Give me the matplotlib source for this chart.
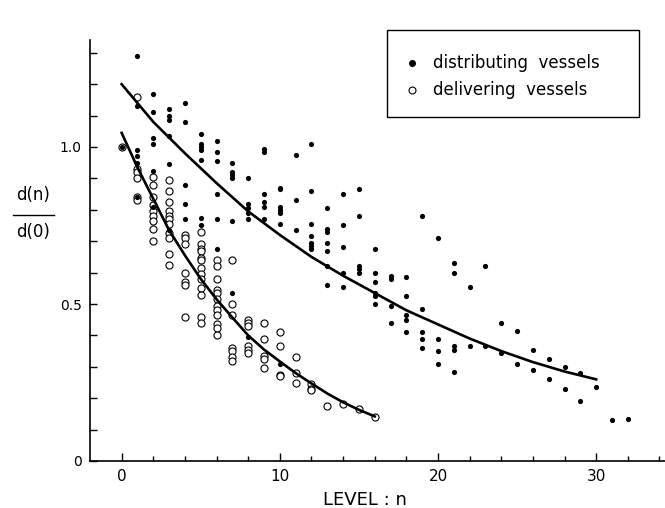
import matplotlib
matplotlib.use("Agg")
import matplotlib.pyplot as plt
import numpy as np
from matplotlib.lines import Line2D
from matplotlib.patches import Rectangle

# d(n)/d(0) readings per branching level n (index = level)
dist_ratio = [
    [1.00],
    [1.29, 1.13, 0.99, 0.97, 0.95, 0.84],
    [1.17, 1.11, 1.03, 1.01, 0.925, 0.81],
    [1.12, 1.10, 1.085, 1.035, 0.945, 0.735],
    [1.14, 1.08, 0.88, 0.82, 0.77],
    [1.04, 1.01, 1.00, 0.99, 0.96, 0.775, 0.75],
    [1.02, 0.985, 0.955, 0.85, 0.77, 0.675],
    [0.95, 0.92, 0.91, 0.90, 0.765, 0.535],
    [0.90, 0.82, 0.805, 0.79, 0.77, 0.395],
    [0.995, 0.985, 0.85, 0.825, 0.81, 0.77],
    [0.87, 0.865, 0.81, 0.80, 0.79, 0.755, 0.31],
    [0.975, 0.83, 0.735],
    [1.01, 0.86, 0.755, 0.715, 0.695, 0.685, 0.675],
    [0.805, 0.74, 0.73, 0.695, 0.67, 0.62, 0.56],
    [0.85, 0.75, 0.68, 0.60, 0.555],
    [0.865, 0.78, 0.62, 0.61, 0.60],
    [0.675, 0.60, 0.57, 0.535, 0.525, 0.50],
    [0.59, 0.58, 0.495, 0.44],
    [0.585, 0.525, 0.465, 0.45, 0.41],
    [0.78, 0.485, 0.41, 0.39, 0.36],
    [0.71, 0.39, 0.35, 0.31],
    [0.63, 0.60, 0.365, 0.355, 0.285],
    [0.555, 0.365],
    [0.62, 0.365],
    [0.44, 0.345],
    [0.415, 0.31],
    [0.355, 0.29],
    [0.325, 0.26],
    [0.30, 0.23],
    [0.28, 0.19],
    [0.235],
    [0.13],
    [0.135],
]

deliv_ratio = [
    [1.00],
    [1.16, 0.93, 0.92, 0.90, 0.84, 0.83],
    [0.905, 0.88, 0.84, 0.815, 0.795, 0.78, 0.765, 0.74, 0.70],
    [0.895, 0.86, 0.825, 0.795, 0.78, 0.77, 0.755, 0.725, 0.71, 0.66, 0.625],
    [0.72, 0.71, 0.69, 0.60, 0.57, 0.56, 0.46],
    [0.73, 0.69, 0.675, 0.67, 0.645, 0.64, 0.615, 0.595, 0.58, 0.55, 0.53,
     0.46, 0.44],
    [0.64, 0.62, 0.58, 0.545, 0.535, 0.515, 0.495, 0.48, 0.465, 0.435, 0.425,
     0.40],
    [0.64, 0.50, 0.465, 0.36, 0.35, 0.33, 0.32],
    [0.45, 0.44, 0.43, 0.365, 0.355, 0.345],
    [0.44, 0.39, 0.335, 0.325, 0.295],
    [0.41, 0.365, 0.275, 0.27],
    [0.33, 0.28, 0.25],
    [0.245, 0.23, 0.225],
    [0.175],
    [0.18],
    [0.165],
    [0.14],
]

# fitted curves
dist_curve_n = [0, 2, 4, 6, 8, 10, 12, 14, 16, 18, 20, 22, 24, 26, 28, 30]
dist_curve_v = [1.20, 1.08, 0.98, 0.885, 0.795, 0.72, 0.65, 0.59, 0.535,
                0.48, 0.435, 0.39, 0.35, 0.315, 0.285, 0.26]
deliv_curve_n = list(range(17))
deliv_curve_v = [1.045, 0.935, 0.835, 0.735, 0.655, 0.58, 0.515, 0.457, 0.40,
                 0.355, 0.317, 0.28, 0.247, 0.215, 0.187, 0.163, 0.142]

legend_labels = ['distributing  vessels', 'delivering  vessels']


def flatten(by_level):
    xs = np.repeat(np.arange(len(by_level)), [len(v) for v in by_level])
    ys = np.concatenate([np.asarray(v, dtype=float) for v in by_level])
    return xs, ys


W, H = 665, 508
fig = plt.figure(figsize=(W / 100, H / 100), dpi=100)
ax = fig.add_axes([90 / W, 1 - 461 / H, 1 - 90 / W, 1.34 * 314 / H])

dx, dy = flatten(dist_ratio)
ox, oy = flatten(deliv_ratio)

ax.scatter(ox, oy, s=26, facecolors='white', edgecolors='black',
           linewidths=0.8, zorder=3)
ax.scatter(dx, dy, s=14, color='black', linewidths=0, zorder=4)

ax.plot(dist_curve_n, dist_curve_v, color='black', lw=1.9, zorder=5)
ax.plot(deliv_curve_n, deliv_curve_v, color='black', lw=1.9, zorder=5)

ax.set_xlim(-2, 34.35)
ax.set_ylim(0, 1.34)

for side in ['top', 'right']:
    ax.spines[side].set_visible(False)
for side in ['left', 'bottom']:
    ax.spines[side].set_linewidth(1.2)

ax.set_xticks([0, 10, 20, 30])
ax.set_xticks(np.arange(0, 35, 2), minor=True)
ax.set_yticks([0, 0.5, 1.0])
ax.set_yticklabels(['0', '0.5', '1.0'])
ax.set_yticks(np.arange(0, 1.35, 0.1), minor=True)
ax.tick_params(axis='x', which='major', direction='in', length=6, width=1,
               labelsize=11, pad=6)
ax.tick_params(axis='x', which='minor', direction='in', length=3.5, width=1)
ax.tick_params(axis='y', which='both', direction='in', length=5, width=1,
               labelsize=10, pad=6)

# x label
fig.text(365 / W, 1 - 500 / H, 'LEVEL : n', ha='center', va='center',
         fontsize=13)

# y label as a stacked fraction
fig.text(33 / W, 1 - 195 / H, 'd(n)', ha='center', va='center', fontsize=12)
fig.text(33 / W, 1 - 232 / H, 'd(0)', ha='center', va='center', fontsize=12)
fig.add_artist(Line2D([13 / W, 54 / W], [1 - 215 / H, 1 - 215 / H],
                      transform=fig.transFigure, color='black', lw=1))

# legend box
fig.add_artist(Rectangle((387 / W, 1 - 117 / H), 252 / W, 87 / H,
                         transform=fig.transFigure, fill=False,
                         edgecolor='black', lw=1))
fig.add_artist(Line2D([412 / W], [1 - 63 / H], transform=fig.transFigure,
                      marker='o', ms=4, color='black', lw=0))
fig.add_artist(Line2D([412 / W], [1 - 90 / H], transform=fig.transFigure,
                      marker='o', ms=5, mfc='white', mec='black', mew=0.8,
                      lw=0))
fig.text(433 / W, 1 - 63 / H, legend_labels[0], va='center', fontsize=12)
fig.text(433 / W, 1 - 90 / H, legend_labels[1], va='center', fontsize=12)

fig.savefig('out.png', dpi=100)
